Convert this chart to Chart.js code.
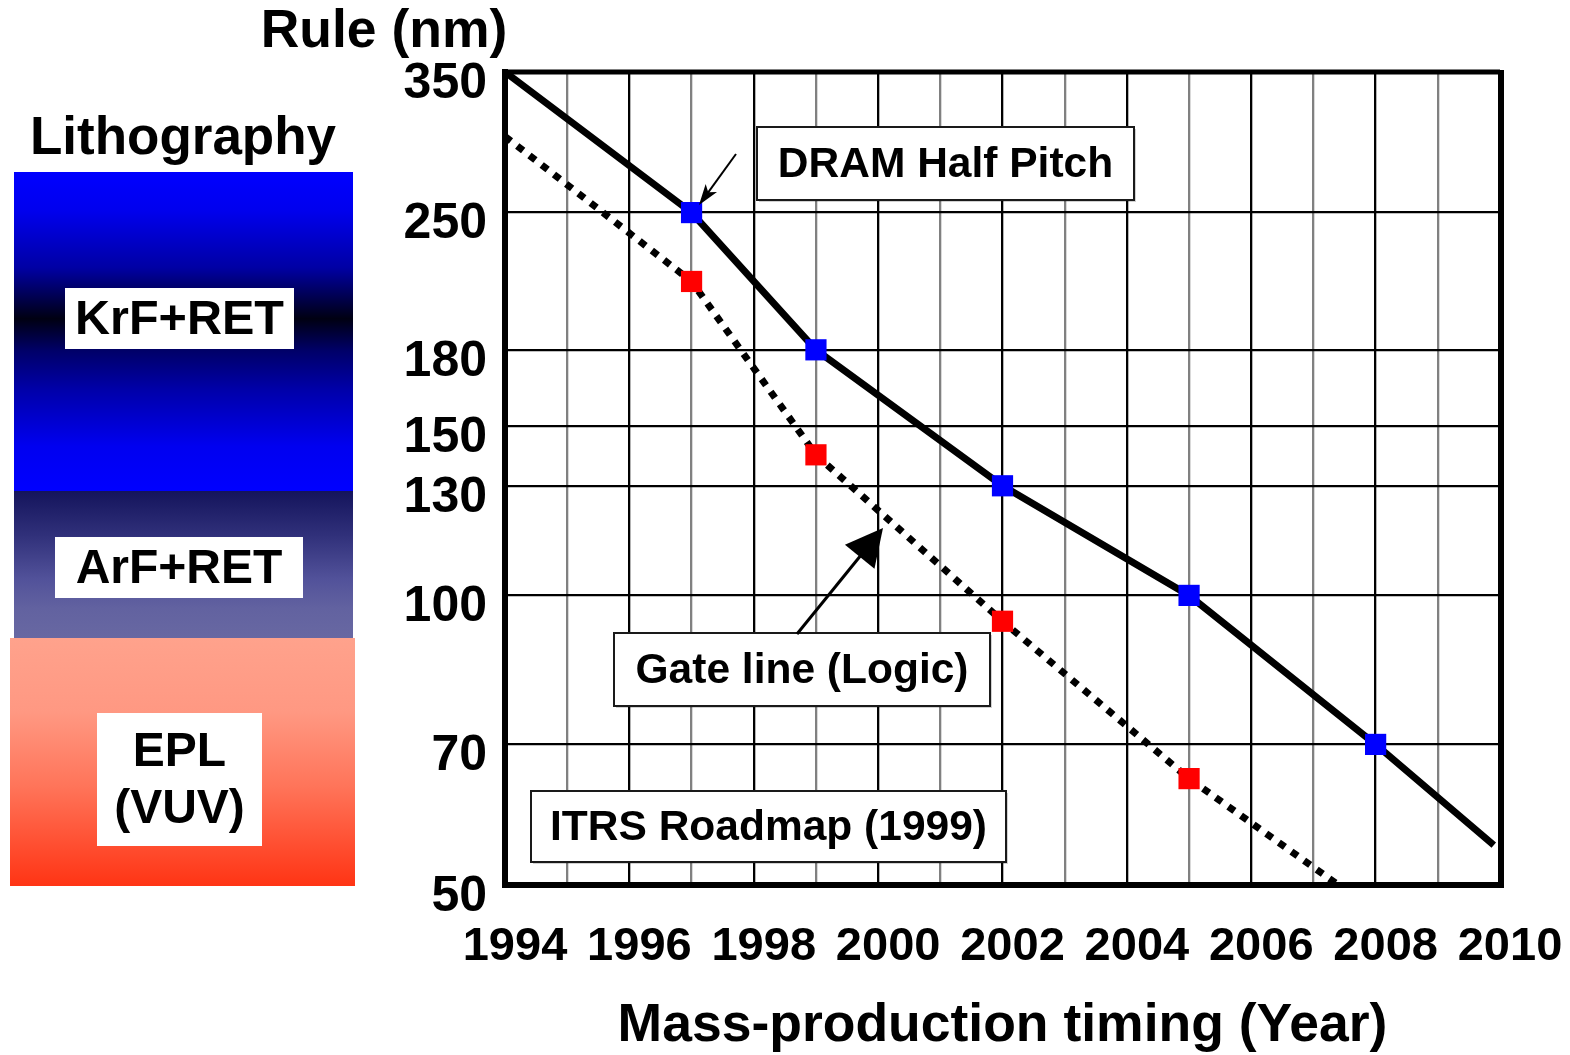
<!DOCTYPE html>
<html>
<head>
<meta charset="utf-8">
<title>Lithography and design rule roadmap</title>
<script src="https://cdn.jsdelivr.net/npm/chart.js@4.4.1/dist/chart.umd.min.js"></script>
<style>
  html, body { margin: 0; padding: 0; background: #fff; }
  #wrap { width: 1570px; height: 1055px; }
</style>
</head>
<body>
<div id="wrap"><canvas id="roadmap" width="1570" height="1055"></canvas></div>
<script>
// DRAM half pitch (nm) against year of mass production
const dramYears = [1994, 1997, 1999, 2002, 2005, 2008, 2009.9];
const dramHalfPitch = [350, 250, 180, 130, 100, 70, 55];

// Logic gate line width (nm), ITRS roadmap 1999
const gateYears = [1994, 1997, 1999, 2002, 2005, 2007.4];
const gateLine = [300, 212, 140, 94, 64.5, 50];

// Axis tick values and labels
const ruleTicks = [350, 250, 180, 150, 130, 100, 70, 50];
const yearLabels = ['1994', '1996', '1998', '2000', '2002', '2004', '2006', '2008', '2010'];

// Lithography technology bands shown beside the chart
const lithoLabels = [['KrF+RET'], ['ArF+RET'], ['EPL', '(VUV)']];

const FONT = '"Liberation Sans", Arial, Helvetica, sans-serif';
Chart.defaults.font.family = FONT;
Chart.defaults.color = '#000';

const toXY = (xs, ys) => xs.map((x, i) => ({ x: x, y: ys[i] }));
// square markers on the roadmap nodes, none on the open ends of each curve
const nodeMarker = ctx => (ctx.dataIndex === 0 || ctx.dataIndex === ctx.dataset.data.length - 1) ? 0 : 15;

function boldFont(size) { return 'bold ' + size + 'px ' + FONT; }

function noteBox(ctx, x, y, w, h, lines, size, lineGap) {
  ctx.save();
  ctx.fillStyle = 'rgba(0,0,0,0.18)';
  ctx.fillRect(x + 2, y + 2, w, h);
  ctx.fillStyle = '#fff';
  ctx.fillRect(x, y, w, h);
  ctx.lineWidth = 2;
  ctx.strokeStyle = '#1a1a1a';
  ctx.strokeRect(x, y, w, h);
  ctx.fillStyle = '#000';
  ctx.font = boldFont(size);
  ctx.textAlign = 'center';
  ctx.textBaseline = 'middle';
  const cx = x + w / 2;
  const total = (lines.length - 1) * lineGap;
  lines.forEach((t, i) => ctx.fillText(t, cx, y + h / 2 - total / 2 + i * lineGap + 2));
  ctx.restore();
}

function whiteLabel(ctx, x, y, w, h, lines, size, lineGap) {
  ctx.save();
  ctx.fillStyle = '#fff';
  ctx.fillRect(x, y, w, h);
  ctx.fillStyle = '#000';
  ctx.font = boldFont(size);
  ctx.textAlign = 'center';
  ctx.textBaseline = 'middle';
  const total = (lines.length - 1) * lineGap;
  lines.forEach((t, i) => ctx.fillText(t, x + w / 2, y + h / 2 - total / 2 + i * lineGap + 2));
  ctx.restore();
}

function arrow(ctx, x0, y0, x1, y1, lw, headLen, headW, notch) {
  const a = Math.atan2(y1 - y0, x1 - x0);
  const c = Math.cos(a), s = Math.sin(a);
  const bx = x1 - headLen * c, by = y1 - headLen * s;
  ctx.save();
  ctx.strokeStyle = '#000';
  ctx.fillStyle = '#000';
  ctx.lineWidth = lw;
  ctx.beginPath();
  ctx.moveTo(x0, y0);
  ctx.lineTo(x1 - (headLen * 0.6) * c, y1 - (headLen * 0.6) * s);
  ctx.stroke();
  ctx.beginPath();
  ctx.moveTo(x1, y1);
  ctx.lineTo(bx + (headW / 2) * s, by - (headW / 2) * c);
  ctx.lineTo(x1 - headLen * (1 - notch) * c, y1 - headLen * (1 - notch) * s);
  ctx.lineTo(bx - (headW / 2) * s, by + (headW / 2) * c);
  ctx.closePath();
  ctx.fill();
  ctx.restore();
}

function gradientRect(ctx, x, y, w, h, stops) {
  const g = ctx.createLinearGradient(0, y, 0, y + h);
  stops.forEach(([p, col]) => g.addColorStop(p, col));
  ctx.fillStyle = g;
  ctx.fillRect(x, y, w, h);
}

const decor = {
  id: 'decor',
  beforeDraw(chart) {
    const ctx = chart.ctx;
    ctx.save();
    ctx.fillStyle = '#fff';
    ctx.fillRect(0, 0, chart.width, chart.height);
    ctx.restore();
  },
  beforeDatasetsDraw(chart) {
    // top and right edges of the plot frame
    const { ctx, chartArea: a } = chart;
    ctx.save();
    ctx.strokeStyle = '#000';
    ctx.lineWidth = 5;
    ctx.beginPath();
    ctx.moveTo(a.left - 3, a.top);
    ctx.lineTo(a.right, a.top);
    ctx.stroke();
    ctx.lineWidth = 6;
    ctx.beginPath();
    ctx.moveTo(a.right + 1, a.top - 2);
    ctx.lineTo(a.right + 1, a.bottom + 3);
    ctx.stroke();
    ctx.restore();
  },
  afterDatasetsDraw(chart) {
    const ctx = chart.ctx;
    noteBox(ctx, 757, 127, 377, 73, ['DRAM Half Pitch'], 42.5, 0);
    noteBox(ctx, 614, 633, 376, 73, ['Gate line (Logic)'], 42.5, 0);
    noteBox(ctx, 531, 791, 475, 71, ['ITRS Roadmap (1999)'], 42.5, 0);
    arrow(ctx, 736, 154, 699, 205, 2, 21, 14, 0.25);
    arrow(ctx, 797, 634, 883, 528, 3, 37, 38, 0);
  },
  afterDraw(chart) {
    const ctx = chart.ctx;
    ctx.save();
    ctx.fillStyle = '#000';
    ctx.textAlign = 'center';
    ctx.textBaseline = 'middle';
    ctx.font = boldFont(53.5);
    ctx.fillText('Rule (nm)', 384, 32);
    ctx.font = boldFont(53);
    ctx.fillText('Lithography', 183, 139);
    ctx.restore();

    gradientRect(ctx, 14, 172, 339, 319, [
      [0, '#0000ff'], [0.12, '#0000ee'], [0.3, '#0000a4'], [0.46, '#000012'],
      [0.56, '#000068'], [0.68, '#0000a8'], [0.86, '#0000f0'], [1, '#0000ff']
    ]);
    gradientRect(ctx, 14, 491, 339, 147, [
      [0, '#14145c'], [0.3, '#30307a'], [0.6, '#52529a'], [0.8, '#6262a0'], [1, '#6868a2']
    ]);
    gradientRect(ctx, 10, 638, 345, 248, [
      [0, '#ffa28c'], [0.3, '#ff9882'], [0.6, '#ff7459'], [0.85, '#ff4c2e'], [1, '#ff3414']
    ]);
    whiteLabel(ctx, 65, 288, 229, 61, lithoLabels[0], 48.5, 0);
    whiteLabel(ctx, 55, 537, 248, 61, lithoLabels[1], 48, 0);
    whiteLabel(ctx, 97, 713, 165, 133, lithoLabels[2], 48, 57);
  }
};

new Chart(document.getElementById('roadmap'), {
  type: 'line',
  data: {
    datasets: [
      {
        label: 'DRAM Half Pitch',
        data: toXY(dramYears, dramHalfPitch),
        borderColor: '#000',
        borderWidth: 7,
        tension: 0,
        pointStyle: 'rect',
        pointRadius: nodeMarker,
        pointBackgroundColor: '#0000ff',
        pointBorderWidth: 0,
        clip: false
      },
      {
        label: 'Gate line (Logic)',
        data: toXY(gateYears, gateLine),
        borderColor: '#000',
        borderWidth: 7,
        borderDash: [7.5, 8],
        borderCapStyle: 'butt',
        tension: 0,
        pointStyle: 'rect',
        pointRadius: nodeMarker,
        pointBackgroundColor: '#ff0000',
        pointBorderWidth: 0,
        clip: false
      }
    ]
  },
  options: {
    responsive: false,
    animation: false,
    events: [],
    layout: { padding: { top: 72, right: 70, left: 0, bottom: 0 } },
    plugins: { legend: { display: false }, tooltip: { enabled: false } },
    scales: {
      x: {
        type: 'linear',
        min: 1994,
        max: 2010,
        afterFit: s => { s.height = 170; s.paddingLeft = 0; s.paddingRight = 0; },
        ticks: {
          stepSize: 1,
          autoSkip: false,
          maxRotation: 0,
          padding: 34,
          labelOffset: 10,
          color: '#000',
          font: { size: 47, weight: 'bold' },
          callback: v => yearLabels.includes(String(v)) ? String(v) : ''
        },
        grid: {
          color: c => (c.tick && Math.round(c.tick.value) % 2 !== 0) ? '#808080' : '#000',
          lineWidth: 2.3,
          drawTicks: false
        },
        border: { display: true, color: '#000', width: 6 },
        title: {
          display: true,
          text: 'Mass-production timing (Year)',
          color: '#000',
          font: { size: 53.5, weight: 'bold', lineHeight: 1 },
          padding: { top: 0, bottom: 2 }
        }
      },
      y: {
        type: 'logarithmic',
        min: 50,
        max: 350,
        afterFit: s => { s.width = 505; },
        afterBuildTicks: s => { s.ticks = ruleTicks.map(v => ({ value: v })); },
        ticks: {
          padding: 18,
          labelOffset: 12,
          color: '#000',
          font: { size: 50, weight: 'bold' },
          callback: v => String(v)
        },
        grid: { color: '#000', lineWidth: 2.3, drawTicks: false },
        border: { display: true, color: '#000', width: 6 }
      }
    }
  },
  plugins: [decor]
});
</script>
</body>
</html>
